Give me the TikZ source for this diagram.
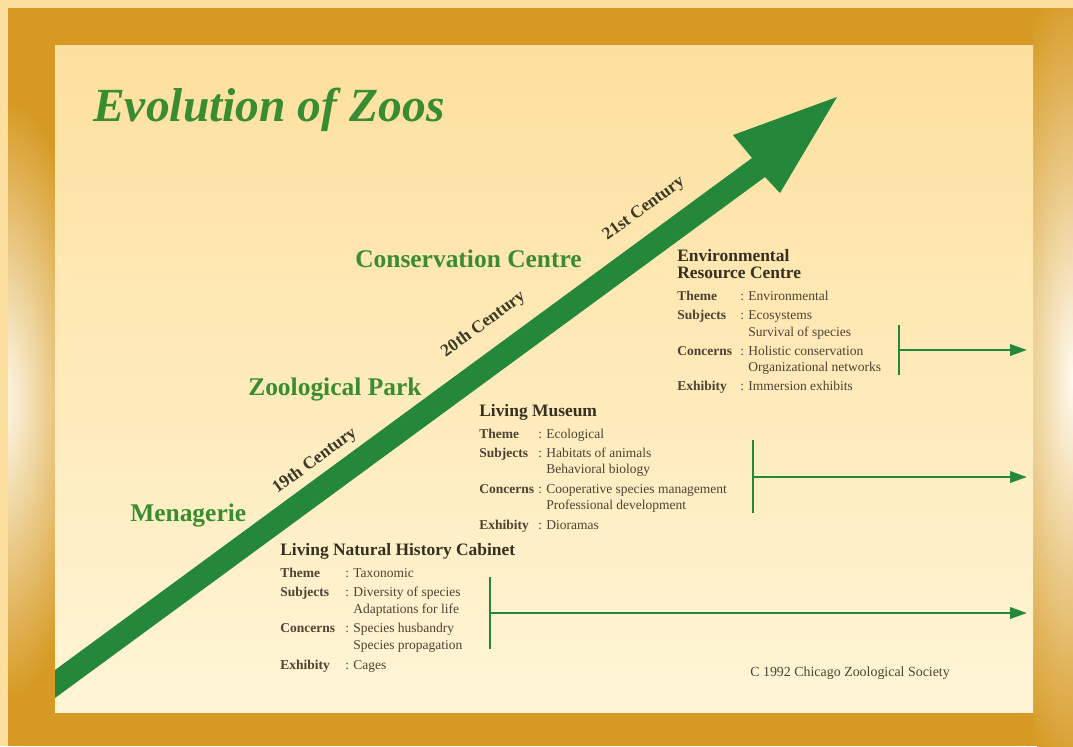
\documentclass[tikz,border=0pt]{standalone}
\usepackage{fontspec}
\setmainfont{Liberation Serif}
\usetikzlibrary{arrows.meta}

\definecolor{outerpaper}{HTML}{FDDFA0}
\definecolor{framegold}{HTML}{D69A24}
\definecolor{glare}{HTML}{FFFBEF}
\definecolor{papertop}{HTML}{FDE09E}
\definecolor{paperbot}{HTML}{FFF5D6}
\definecolor{zoogreen}{HTML}{25873A}
\definecolor{labelgreen}{HTML}{3A8C30}
\definecolor{ink}{HTML}{4E4232}
\definecolor{darkink}{HTML}{35301F}
\definecolor{centuryink}{HTML}{3A3A26}

\tikzset{
  biglabel/.style={anchor=base west, inner sep=0pt, text=labelgreen,
    font=\fontsize{18.1}{20}\selectfont\bfseries},
  century/.style={inner sep=0pt, rotate=36.3, text=centuryink,
    font=\fontsize{12.4}{14}\selectfont\bfseries},
  heading/.style={anchor=base west, inner sep=0pt, text=darkink,
    font=\fontsize{12.4}{14}\selectfont\bfseries},
  rowlabel/.style={anchor=base west, inner sep=0pt, text=ink,
    font=\fontsize{9.6}{11}\selectfont\bfseries},
  rowtext/.style={anchor=base west, inner sep=0pt, text=ink,
    font=\fontsize{9.6}{11}\selectfont},
  tee/.style={draw=zoogreen, line width=1.9pt},
  teearrow/.style={tee, -{Triangle[length=12pt,width=8pt]}},
}

\begin{document}
\begin{tikzpicture}[x=0.025cm, y=-0.025cm]
\useasboundingbox (0,0) rectangle (1073,746);

% frame, with the light catching both sides
\fill[outerpaper] (0,0) rectangle (1073,746);
\fill[framegold] (8,8) rectangle (1073,746);
\begin{scope}
  \clip (8,8) rectangle (55,746);
  \shade[inner color=glare, outer color=framegold] (0,400) ellipse (100 and 300);
\end{scope}
\begin{scope}
  \clip (1033,8) rectangle (1073,746);
  \shade[inner color=glare, outer color=framegold] (1073,380) ellipse (90 and 400);
\end{scope}
\shade[top color=papertop, bottom color=paperbot] (55,45) rectangle (1033,712);

% the big arrow
\coordinate (tail-top) at (55,670);
\coordinate (tail-bot) at (55,698);
\coordinate (neck-top) at (752,158);
\coordinate (neck-bot) at (765,177);
\coordinate (barb-top) at (733,135);
\coordinate (barb-bot) at (780,193);
\coordinate (tip) at (837,97);

\fill[zoogreen] (tail-top) -- (neck-top) -- (barb-top) -- (tip)
  -- (barb-bot) -- (neck-bot) -- (tail-bot) -- cycle;

\node[anchor=base west, inner sep=0pt, text=labelgreen,
  font=\fontsize{33.8}{36}\selectfont\bfseries\itshape] (title) at (93,121) {Evolution of Zoos};

\node[biglabel] (menagerie) at (130,521) {Menagerie};
\node[biglabel] (park) at (248,395) {Zoological Park};
\node[biglabel] (conservation) at (355,267) {Conservation Centre};

\node[century] (c19) at (315,461) {19th Century};
\node[century] (c20) at (483.5,324.5) {20th Century};
\node[century] (c21) at (644,209) {21st Century};

% Environmental Resource Centre
\node[heading] (erc-head) at (677,261) {Environmental};
\node[heading] (erc-head2) at (677,278) {Resource Centre};
\foreach \y/\lab/\val [count=\i] in {300/Theme/Environmental, 319/Subjects/Ecosystems,
    355/Concerns/Holistic conservation, 390/Exhibity/Immersion exhibits} {
  \node[rowlabel] (erc-lab\i) at (677,\y) {\lab};
  \node[rowtext] (erc-colon\i) at (740,\y) {:};
  \node[rowtext] (erc-val\i) at (748,\y) {\val};
}
\foreach \y/\val [count=\i] in {336/Survival of species, 371/Organizational networks}
  \node[rowtext] (erc-more\i) at (748,\y) {\val};

\coordinate (erc-top) at (899,325);
\coordinate (erc-bot) at (899,375);
\coordinate (erc-mid) at (899,350);
\coordinate (erc-end) at (1027,350);
\draw[tee] (erc-top) -- (erc-bot);
\draw[teearrow] (erc-mid) -- (erc-end);

% Living Museum
\node[heading] (lm-head) at (479,416) {Living Museum};
\foreach \y/\lab/\val [count=\i] in {438/Theme/Ecological, 457/Subjects/Habitats of animals,
    493/Concerns/Cooperative species management, 529/Exhibity/Dioramas} {
  \node[rowlabel] (lm-lab\i) at (479,\y) {\lab};
  \node[rowtext] (lm-colon\i) at (538,\y) {:};
  \node[rowtext] (lm-val\i) at (546,\y) {\val};
}
\foreach \y/\val [count=\i] in {473/Behavioral biology, 509/Professional development}
  \node[rowtext] (lm-more\i) at (546,\y) {\val};

\coordinate (lm-top) at (753,440);
\coordinate (lm-bot) at (753,513);
\coordinate (lm-mid) at (753,477);
\coordinate (lm-end) at (1027,477);
\draw[tee] (lm-top) -- (lm-bot);
\draw[teearrow] (lm-mid) -- (lm-end);

% Living Natural History Cabinet
\node[heading] (cab-head) at (280,555) {Living Natural History Cabinet};
\foreach \y/\lab/\val [count=\i] in {577/Theme/Taxonomic, 596/Subjects/Diversity of species,
    632/Concerns/Species husbandry, 669/Exhibity/Cages} {
  \node[rowlabel] (cab-lab\i) at (280,\y) {\lab};
  \node[rowtext] (cab-colon\i) at (345,\y) {:};
  \node[rowtext] (cab-val\i) at (353,\y) {\val};
}
\foreach \y/\val [count=\i] in {613/Adaptations for life, 649/Species propagation}
  \node[rowtext] (cab-more\i) at (353,\y) {\val};

\coordinate (cab-top) at (490,577);
\coordinate (cab-bot) at (490,649);
\coordinate (cab-mid) at (490,613);
\coordinate (cab-end) at (1027,613);
\draw[tee] (cab-top) -- (cab-bot);
\draw[teearrow] (cab-mid) -- (cab-end);

\node[rowtext, font=\fontsize{9.9}{11}\selectfont] (credit) at (750,676) {C 1992 Chicago Zoological Society};

\end{tikzpicture}
\end{document}
